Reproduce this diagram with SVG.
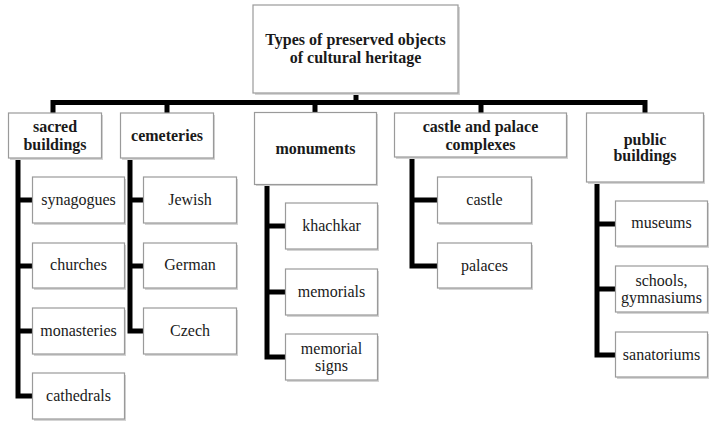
<svg xmlns="http://www.w3.org/2000/svg" width="720" height="431" viewBox="0 0 720 431">
<defs>
<style>
.box{fill:#fff;stroke:#9a9a9a;stroke-width:1.2}
.sh{fill:#d4d4d4}
.p{font-family:"Liberation Serif","Times New Roman",serif;font-weight:bold;font-size:16px;fill:#1a1a1a;text-anchor:middle}
.c{font-family:"Liberation Serif","Times New Roman",serif;font-size:16px;fill:#1a1a1a;text-anchor:middle}
.ln{stroke:#000;stroke-width:5;fill:none}
</style>
</defs>
<rect width="720" height="431" fill="#fff"/>
<g id="connectors">
<path class="ln" d="M356 93 V102.5 M53 113 V102.5 H645 V113 M167 102.5 V113 M315 102.5 V113 M481 102.5 V113"/>
<path class="ln" d="M18 157 V396 H33 M18 200 H33 M18 266 H33 M18 331 H33"/>
<path class="ln" d="M130 157 V331 H144 M130 200 H144 M130 266 H144"/>
<path class="ln" d="M267 184 V357 H286 M267 226 H286 M267 292 H286"/>
<path class="ln" d="M412 157 V266 H438 M412 200 H438"/>
<path class="ln" d="M597 182 V355 H616 M597 224 H616 M597 289 H616"/>
</g>
<g id="root"><rect class="sh" x="255" y="7" width="205" height="88"/><rect class="box" x="253" y="5" width="205" height="88"/><text class="p" x="355.5" y="45">Types of preserved objects</text><text class="p" x="355.5" y="63">of cultural heritage</text></g>
<g id="sacred"><rect class="sh" x="10" y="115" width="93" height="45"/><rect class="box" x="8.5" y="113" width="93" height="45"/><text class="p" x="55" y="132">sacred</text><text class="p" x="55" y="150">buildings</text></g>
<g id="cemeteries"><rect class="sh" x="122" y="115" width="93" height="45"/><rect class="box" x="120.5" y="113" width="93" height="45"/><text class="p" x="167" y="141">cemeteries</text></g>
<g id="monuments"><rect class="sh" x="256" y="114" width="122" height="72"/><rect class="box" x="254.5" y="112.5" width="122" height="72"/><text class="p" x="315.5" y="154">monuments</text></g>
<g id="castle-palace"><rect class="sh" x="396" y="115" width="172" height="44"/><rect class="box" x="394.5" y="113" width="172" height="44"/><text class="p" x="480.5" y="132">castle and palace</text><text class="p" x="480.5" y="150">complexes</text></g>
<g id="public"><rect class="sh" x="588" y="115" width="117" height="69"/><rect class="box" x="586.5" y="113" width="117" height="69"/><text class="p" x="645" y="145">public</text><text class="p" x="645" y="161">buildings</text></g>
<g id="synagogues"><rect class="sh" x="34" y="179" width="92" height="46"/><rect class="box" x="32.5" y="177" width="92" height="46"/><text class="c" x="78.5" y="205">synagogues</text></g>
<g id="churches"><rect class="sh" x="34" y="245" width="92" height="45"/><rect class="box" x="32.5" y="243" width="92" height="45"/><text class="c" x="78.5" y="270">churches</text></g>
<g id="monasteries"><rect class="sh" x="34" y="310" width="92" height="46"/><rect class="box" x="32.5" y="308" width="92" height="46"/><text class="c" x="78.5" y="336">monasteries</text></g>
<g id="cathedrals"><rect class="sh" x="34" y="375" width="92" height="46"/><rect class="box" x="32.5" y="373" width="92" height="46"/><text class="c" x="78.5" y="401">cathedrals</text></g>
<g id="jewish"><rect class="sh" x="145" y="179" width="93" height="46"/><rect class="box" x="143.5" y="177" width="93" height="46"/><text class="c" x="190" y="205">Jewish</text></g>
<g id="german"><rect class="sh" x="145" y="245" width="93" height="45"/><rect class="box" x="143.5" y="243" width="93" height="45"/><text class="c" x="190" y="270">German</text></g>
<g id="czech"><rect class="sh" x="145" y="310" width="93" height="46"/><rect class="box" x="143.5" y="308" width="93" height="46"/><text class="c" x="190" y="336">Czech</text></g>
<g id="khachkar"><rect class="sh" x="287" y="205" width="92" height="46"/><rect class="box" x="285.5" y="203" width="92" height="46"/><text class="c" x="331.5" y="231">khachkar</text></g>
<g id="memorials"><rect class="sh" x="287" y="271" width="92" height="46"/><rect class="box" x="285.5" y="269" width="92" height="46"/><text class="c" x="331.5" y="297">memorials</text></g>
<g id="memorial-signs"><rect class="sh" x="287" y="336" width="92" height="46"/><rect class="box" x="285.5" y="334" width="92" height="46"/><text class="c" x="331.5" y="354">memorial</text><text class="c" x="331.5" y="371">signs</text></g>
<g id="castle"><rect class="sh" x="439" y="179" width="94" height="46"/><rect class="box" x="437.5" y="177" width="94" height="46"/><text class="c" x="484.5" y="205">castle</text></g>
<g id="palaces"><rect class="sh" x="439" y="245" width="94" height="45"/><rect class="box" x="437.5" y="243" width="94" height="45"/><text class="c" x="484.5" y="271">palaces</text></g>
<g id="museums"><rect class="sh" x="617" y="203" width="92" height="45"/><rect class="box" x="615.5" y="201" width="92" height="45"/><text class="c" x="661.5" y="228">museums</text></g>
<g id="schools"><rect class="sh" x="617" y="268" width="92" height="46"/><rect class="box" x="615.5" y="266" width="92" height="46"/><text class="c" x="661.5" y="286">schools,</text><text class="c" x="661.5" y="303">gymnasiums</text></g>
<g id="sanatoriums"><rect class="sh" x="617" y="334" width="92" height="45"/><rect class="box" x="615.5" y="332" width="92" height="45"/><text class="c" x="661.5" y="360">sanatoriums</text></g>
</svg>
